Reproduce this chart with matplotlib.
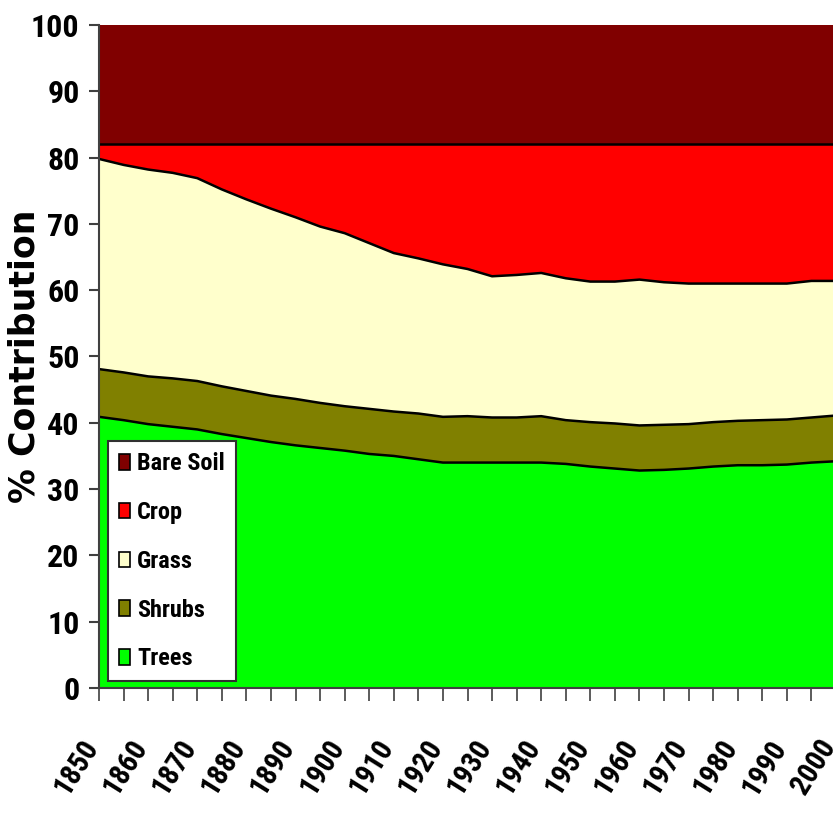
import numpy as np
import matplotlib
matplotlib.use("Agg")
import matplotlib.pyplot as plt
from matplotlib import font_manager
from matplotlib.patches import Patch
from matplotlib.ticker import MultipleLocator

# land cover share (%) every 5 years, 1850-2000
years = list(range(1850, 2001, 5))
trees = [40.9, 40.4, 39.8, 39.4, 39.0, 38.3, 37.7, 37.1, 36.6, 36.2,
         35.8, 35.3, 35.0, 34.5, 34.0, 34.0, 34.0, 34.0, 34.0, 33.8,
         33.4, 33.1, 32.8, 32.9, 33.1, 33.4, 33.6, 33.6, 33.7, 34.0, 34.2]
shrubs = [7.2, 7.2, 7.2, 7.3, 7.3, 7.2, 7.1, 7.0, 7.0, 6.8,
          6.7, 6.8, 6.7, 6.9, 6.9, 7.0, 6.8, 6.8, 7.0, 6.6,
          6.7, 6.8, 6.8, 6.8, 6.7, 6.7, 6.7, 6.8, 6.8, 6.8, 6.9]
grass = [31.7, 31.3, 31.2, 31.0, 30.6, 29.7, 28.9, 28.2, 27.4, 26.6,
         26.1, 25.0, 23.9, 23.4, 23.0, 22.2, 21.3, 21.5, 21.6, 21.4,
         21.2, 21.4, 22.0, 21.5, 21.2, 20.9, 20.7, 20.6, 20.5, 20.6, 20.3]
crop = [2.2, 3.1, 3.8, 4.3, 5.1, 6.8, 8.3, 9.7, 11.0, 12.4,
        13.4, 14.9, 16.4, 17.2, 18.1, 18.8, 19.9, 19.7, 19.4, 20.2,
        20.7, 20.7, 20.4, 20.8, 21.0, 21.0, 21.0, 21.0, 21.0, 20.6, 20.6]
bare_soil = [18.0] * len(years)

labels = ["Trees", "Shrubs", "Grass", "Crop", "Bare Soil"]
colors = ["#00FF00", "#808000", "#FFFFCC", "#FF0000", "#800000"]


def pick_bold_family(candidates):
    # first family in the list that has a real bold face installed
    bold = {f.name for f in font_manager.fontManager.ttflist if f.weight in (700, "bold")}
    for name in candidates:
        if name in bold:
            return name
    return "Liberation Sans"


narrow = pick_bold_family(["Liberation Sans Narrow", "Arial Narrow",
                           "Roboto Condensed", "Barlow Semi Condensed",
                           "Liberation Sans"])

fig = plt.figure(figsize=(8.33, 8.13), dpi=100)
ax = fig.add_axes([99 / 833, 1 - 688 / 813, 737 / 833, 663 / 813])

layers = np.vstack([trees, shrubs, grass, crop, bare_soil])
ax.stackplot(years, layers, colors=colors, linewidth=0)

# boundary lines between the layers
tops = np.cumsum(layers, axis=0)
for row in tops[:-1]:
    ax.plot(years, row, color="black", lw=1.8)

ax.set_xlim(1850, 2000)
ax.set_ylim(0, 100)
ax.set_yticks(range(0, 101, 10))
ax.xaxis.set_major_locator(MultipleLocator(10))
ax.xaxis.set_minor_locator(MultipleLocator(5))

for side in ("top", "right"):
    ax.spines[side].set_visible(False)
for side in ("left", "bottom"):
    ax.spines[side].set_color("#404040")
    ax.spines[side].set_linewidth(1.5)

ax.tick_params(axis="y", direction="out", length=7, width=1.5, color="#404040", pad=7)
ax.tick_params(axis="x", which="both", direction="out", length=9, width=1.2,
               color="#404040", pad=33)

for lab in ax.get_yticklabels():
    lab.set_fontfamily(narrow)
    lab.set_fontweight("bold")
    lab.set_fontsize(23)
for lab in ax.get_xticklabels():
    lab.set_fontfamily(narrow)
    lab.set_fontweight("bold")
    lab.set_fontsize(21)
    lab.set_rotation(58)
    lab.set_ha("right")
    lab.set_va("baseline")
    lab.set_rotation_mode("anchor")

ax.set_ylabel("% Contribution", fontsize=25, fontweight="bold",
              fontfamily="DejaVu Sans", va="center")
ax.yaxis.set_label_coords(-(99 - 25) / 737, 0.5)

handles = [Patch(facecolor=c, edgecolor="black", linewidth=1.2)
           for c in colors[::-1]]
leg = ax.legend(handles, labels[::-1], loc="lower left",
                bbox_to_anchor=(0.012, 0.01), borderaxespad=0,
                frameon=True, fancybox=False,
                edgecolor="#303030", framealpha=1, borderpad=0.45,
                labelspacing=1.06, handlelength=0.45, handleheight=0.6,
                handletextpad=0.3,
                prop={"family": narrow, "weight": "bold", "size": 17.5})
leg.get_frame().set_linewidth(1.5)

fig.savefig("out.png", dpi=100)
